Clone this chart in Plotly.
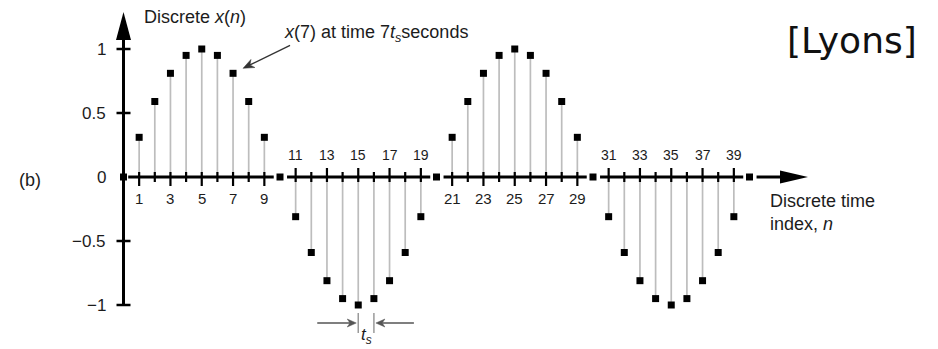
import math
import plotly.graph_objects as go

# ---- data -------------------------------------------------------------
n_index = list(range(41))
x_values = [0.00, 0.31, 0.59, 0.81, 0.95, 1.00, 0.95, 0.81, 0.59, 0.31,
            0.00, -0.31, -0.59, -0.81, -0.95, -1.00, -0.95, -0.81, -0.59, -0.31,
            0.00, 0.31, 0.59, 0.81, 0.95, 1.00, 0.95, 0.81, 0.59, 0.31,
            0.00, -0.31, -0.59, -0.81, -0.95, -1.00, -0.95, -0.81, -0.59, -0.31,
            0.00]
ticks_below = [1, 3, 5, 7, 9, 21, 23, 25, 27, 29]
ticks_above = [11, 13, 15, 17, 19, 31, 33, 35, 37, 39]
y_ticks = [1, 0.5, -0.5, -1]
y_tick_text = ["1", "0.5", "\u22120.5", "\u22121"]
axis_gaps = [10, 20, 30, 40]

# ---- canvas / scale set-up -------------------------------------------
W, H = 938, 349
ORIGIN_X, PX_PER_N = 123.5, 15.65
ORIGIN_Y, PX_PER_UNIT = 177.0, 128.0
x_range = [-ORIGIN_X / PX_PER_N, (W - ORIGIN_X) / PX_PER_N]
y_range = [(ORIGIN_Y - H) / PX_PER_UNIT, ORIGIN_Y / PX_PER_UNIT]


def dn(px):
    """horizontal pixel distance -> n units"""
    return px / PX_PER_N


def dv(px):
    """vertical pixel distance -> amplitude units"""
    return px / PX_PER_UNIT


def to_px(n, v):
    return ORIGIN_X + n * PX_PER_N, ORIGIN_Y - v * PX_PER_UNIT


def to_data(px, py):
    return (px - ORIGIN_X) / PX_PER_N, (ORIGIN_Y - py) / PX_PER_UNIT


def arrow_shapes(tail, tip, color, width, head_len=9.0, head_w=4.0):
    """Line with a barbed filled head; tail/tip given in data units."""
    tx, ty = to_px(*tail)
    hx, hy = to_px(*tip)
    L = math.hypot(hx - tx, hy - ty)
    ux, uy = (hx - tx) / L, (hy - ty) / L
    px_, py_ = -uy, ux
    bx, by = hx - ux * head_len, hy - uy * head_len
    nx_, ny_ = hx - ux * head_len * 0.7, hy - uy * head_len * 0.7
    pts = [(hx, hy), (bx + px_ * head_w, by + py_ * head_w), (nx_, ny_),
           (bx - px_ * head_w, by - py_ * head_w)]
    pts = [to_data(*p) for p in pts]
    path = "M " + " L ".join(f"{a},{b}" for a, b in pts) + " Z"
    ex, ey = to_data(nx_, ny_)
    return [dict(type="line", x0=tail[0], y0=tail[1], x1=ex, y1=ey,
                 line=dict(color=color, width=width)),
            dict(type="path", path=path, fillcolor=color,
                 line=dict(color=color, width=0.5))]


FONT = "Liberation Sans, Arial, Helvetica, sans-serif"
INK = "#1c1c1c"

fig = go.Figure()

# stems
sx, sy = [], []
for n, v in zip(n_index, x_values):
    if v != 0:
        sx += [n, n, None]
        sy += [0, v, None]
fig.add_trace(go.Scatter(x=sx, y=sy, mode="lines",
                         line=dict(color="#bdbdbd", width=1.7),
                         hoverinfo="skip"))

# sample markers
fig.add_trace(go.Scatter(x=n_index, y=x_values, mode="markers",
                         marker=dict(symbol="square", size=7, color="black",
                                     line=dict(width=0)),
                         hoverinfo="skip"))

shapes = []
AX_W = 3

# x axis, broken around the zero-valued samples
x_end = 41.95
starts = [0.3] + [g + 0.45 for g in axis_gaps]
ends = [g - 0.4 for g in axis_gaps] + [x_end]
for a, b in zip(starts, ends):
    shapes.append(dict(type="line", x0=a, x1=b, y0=0, y1=0,
                       line=dict(color="black", width=AX_W)))
# x arrow head
shapes.append(dict(type="path",
                   path=f"M {x_end},{dv(6.5)} L {x_end + dn(28)},0 L {x_end},{-dv(6.5)} Z",
                   fillcolor="black", line=dict(width=0)))

# x tick marks
for n in n_index:
    if n % 10 == 0:
        continue
    lo, hi = -dv(5), dv(5)
    if n in ticks_below:
        lo = -dv(9)
    elif n in ticks_above:
        hi = dv(9)
    shapes.append(dict(type="line", x0=n, x1=n, y0=lo, y1=hi,
                       line=dict(color="black", width=2.2)))

# y axis
y_top = 1.07
shapes.append(dict(type="line", x0=0, x1=0, y0=-1, y1=y_top,
                   line=dict(color="black", width=AX_W)))
shapes.append(dict(type="path",
                   path=f"M {-dn(7.5)},{y_top} L 0,{y_top + dv(28)} L {dn(7.5)},{y_top} Z",
                   fillcolor="black", line=dict(width=0)))
for v in y_ticks:
    shapes.append(dict(type="line", x0=-dn(7), x1=dn(7), y0=v, y1=v,
                       line=dict(color="black", width=2.5)))

# sampling-period guides
for n in (15, 16):
    shapes.append(dict(type="line", x0=n, x1=n, y0=-1 - dv(8), y1=-1 - dv(28),
                       line=dict(color="#9a9a9a", width=1.5)))

# sampling period arrows
y_arr = -1 - dv(18)
shapes += arrow_shapes((15 - dn(41), y_arr), (15 - dn(2), y_arr), "#555555", 1.5)
shapes += arrow_shapes((16 + dn(40), y_arr), (16 + dn(2), y_arr), "#555555", 1.5)

# callout arrow for sample n = 7
n7 = 7
shapes += arrow_shapes((n7 + dn(57), x_values[n7] + dv(28)),
                       (n7 + dn(10), x_values[n7] + dv(5)), "#333333", 1.3,
                       head_len=11, head_w=4.5)

annotations = []

# y tick labels
for v, t in zip(y_ticks + [0], y_tick_text + ["0"]):
    annotations.append(dict(x=0, y=v, text=t, showarrow=False, xanchor="right",
                            yanchor="middle", xshift=-16,
                            font=dict(family=FONT, size=17, color=INK)))
# x tick labels
for n in ticks_below:
    annotations.append(dict(x=n, y=-dv(21), text=str(n), showarrow=False,
                            xanchor="center", yanchor="middle",
                            font=dict(family=FONT, size=15, color=INK)))
for n in ticks_above:
    annotations.append(dict(x=n, y=dv(22), text=str(n), showarrow=False,
                            xanchor="center", yanchor="middle",
                            font=dict(family=FONT, size=14, color=INK)))

# axis titles and labels
annotations.append(dict(x=dn(142 - ORIGIN_X), y=dv(ORIGIN_Y - 17),
                        text="Discrete <i>x</i>(<i>n</i>)", showarrow=False,
                        xanchor="left", yanchor="middle",
                        font=dict(family=FONT, size=18, color=INK)))
annotations.append(dict(x=dn(768 - ORIGIN_X), y=-dv(212 - ORIGIN_Y),
                        text="Discrete time<br>index, <i>n</i>", showarrow=False,
                        xanchor="left", yanchor="middle", align="left",
                        font=dict(family=FONT, size=18, color=INK)))
annotations.append(dict(x=dn(17 - ORIGIN_X), y=-dv(3),
                        text="(b)", showarrow=False,
                        xanchor="left", yanchor="middle",
                        font=dict(family=FONT, size=18, color=INK)))
annotations.append(dict(x=dn(282 - ORIGIN_X), y=dv(ORIGIN_Y - 33),
                        text="<i>x</i>(7) at time 7<i>t<sub>s</sub></i>seconds",
                        showarrow=False, xanchor="left", yanchor="middle",
                        font=dict(family=FONT, size=18, color=INK)))
annotations.append(dict(x=15.5, y=-1 - dv(31), text="<i>t<sub>s</sub></i>",
                        showarrow=False, xanchor="center", yanchor="middle",
                        font=dict(family=FONT, size=17, color=INK)))

# source tag
annotations.append(dict(x=785 / W, y=1 - 40 / H, xref="paper", yref="paper",
                        text="[Lyons]", showarrow=False,
                        xanchor="left", yanchor="middle",
                        font=dict(family="DejaVu Sans", size=36, color="#111111")))

fig.update_layout(
    width=W, height=H,
    margin=dict(l=0, r=0, t=0, b=0),
    paper_bgcolor="white", plot_bgcolor="white",
    showlegend=False,
    xaxis=dict(range=x_range, visible=False, fixedrange=True),
    yaxis=dict(range=y_range, visible=False, fixedrange=True),
    shapes=shapes,
    annotations=annotations,
)

fig.write_html("out.html")
